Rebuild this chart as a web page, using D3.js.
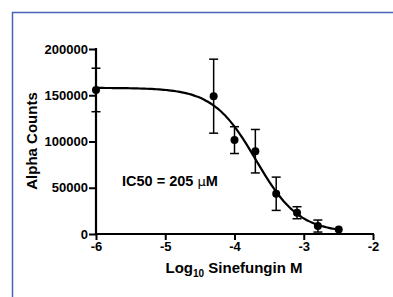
<!DOCTYPE html>
<html><head><meta charset="utf-8">
<script src="https://cdn.jsdelivr.net/npm/d3@7"></script>
<style>body{margin:0;background:#fff}svg{display:block}</style>
</head><body>
<script>
const logConc = [-6, -4.301, -4, -3.699, -3.398, -3.097, -2.796, -2.495];
const counts  = [155700, 149000, 101500, 89500, 43500, 23000, 8600, 5000];
const errs    = [23500, 40000, 14500, 23500, 18000, 6500, 6500, 0];
const xTicks = [-6, -5, -4, -3, -2];
const yTicks = [0, 50000, 100000, 150000, 200000];
// four-parameter logistic fit
const fitTop = 158000, fitBottom = 1500, fitLogIC50 = -3.688, fitHill = 1.4;

const W = 393, H = 297;
const svg = d3.select("body").append("svg").attr("width", W).attr("height", H);
// blue frame
svg.append("line").attr("x1",12).attr("x2",W).attr("y1",12.5).attr("y2",12.5).attr("stroke","#4a62b8").attr("stroke-width",1.5);
svg.append("line").attr("x1",12.5).attr("x2",12.5).attr("y1",12).attr("y2",H).attr("stroke","#4a62b8").attr("stroke-width",1.5);

const x = d3.scaleLinear().domain([-6,-2]).range([96,373]);
const y = d3.scaleLinear().domain([0,200000]).range([234,49]);
const font = "'Liberation Sans', Arial, sans-serif";

const xa = svg.append("g").attr("transform","translate(0,234)")
  .call(d3.axisBottom(x).tickValues(xTicks).tickSize(6).tickPadding(2).tickFormat(d=>String(d)));
const ya = svg.append("g").attr("transform","translate(96,0)")
  .call(d3.axisLeft(y).tickValues(yTicks).tickSize(7).tickPadding(1).tickFormat(d=>String(d)));
[xa,ya].forEach(g=>{
  g.select(".domain").remove();
  g.selectAll(".tick line").attr("stroke","#000").attr("stroke-width",2);
  g.selectAll(".tick text").attr("fill","#000").style("font-family",font).style("font-weight","bold").style("font-size","13px");
});
svg.append("line").attr("x1",95).attr("x2",374).attr("y1",234).attr("y2",234).attr("stroke","#000").attr("stroke-width",2.2);
svg.append("line").attr("x1",96).attr("x2",96).attr("y1",48).attr("y2",235).attr("stroke","#000").attr("stroke-width",2.2);

// fit curve
const fitX = d3.range(0, 101).map(i => -6 + i*(-2.5+6)/100);
const fitY = fitX.map(v => fitBottom + (fitTop-fitBottom)/(1+Math.pow(10,(v-fitLogIC50)*fitHill)));
svg.append("path").datum(fitX.map((v,i)=>[v,fitY[i]]))
  .attr("d", d3.line().x(d=>x(d[0])).y(d=>y(d[1])).curve(d3.curveMonotoneX))
  .attr("fill","none").attr("stroke","#000").attr("stroke-width",2.2);

// error bars
const data = logConc.map((v,i)=>({x:v,y:counts[i],e:errs[i]}));
const eb = svg.append("g").attr("stroke","#000").attr("stroke-width",1.5);
data.filter(d=>d.e>0).forEach(d=>{
  const lo = Math.max(0, d.y-d.e);
  eb.append("line").attr("x1",x(d.x)).attr("x2",x(d.x)).attr("y1",y(d.y+d.e)).attr("y2",y(lo));
  eb.append("line").attr("x1",x(d.x)-4.5).attr("x2",x(d.x)+4.5).attr("y1",y(d.y+d.e)).attr("y2",y(d.y+d.e));
  if (d.y-d.e > 0) eb.append("line").attr("x1",x(d.x)-4.5).attr("x2",x(d.x)+4.5).attr("y1",y(lo)).attr("y2",y(lo));
});
svg.append("g").selectAll("circle").data(data).join("circle")
  .attr("cx",d=>x(d.x)).attr("cy",d=>y(d.y)).attr("r",4).attr("fill","#000");

// labels
svg.append("text").attr("transform","translate(37,141) rotate(-90)").attr("text-anchor","middle")
  .style("font-family",font).style("font-weight","bold").style("font-size","15px").text("Alpha Counts");
const xl = svg.append("text").attr("x",234).attr("y",273).attr("text-anchor","middle")
  .style("font-family",font).style("font-weight","bold").style("font-size","15px");
xl.append("tspan").text("Log");
xl.append("tspan").attr("dy",4).style("font-size","10px").text("10");
xl.append("tspan").attr("dy",-4).text(" Sinefungin M");
const ic = svg.append("text").attr("x",122).attr("y",186)
  .style("font-family",font).style("font-weight","bold").style("font-size","14.5px");
ic.append("tspan").text("IC50 = 205 ");
ic.append("tspan").style("font-weight","normal").style("font-family","'DejaVu Sans', sans-serif").style("font-size","13px").text("μ");
ic.append("tspan").text("M");
</script>
</body></html>
